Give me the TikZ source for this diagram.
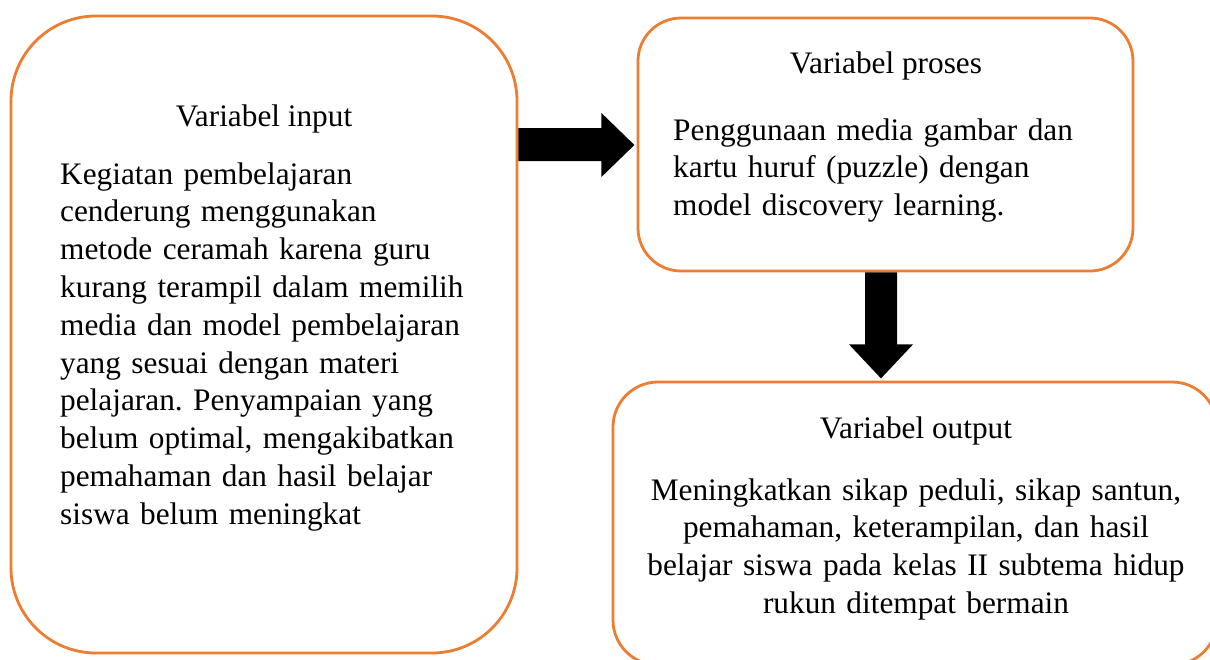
\documentclass[tikz,border=0pt]{standalone}
\usepackage{fontspec}
\setmainfont{Liberation Serif}
\usetikzlibrary{calc}
\definecolor{boxorange}{HTML}{ED7D31}
\frenchspacing
\tikzset{
  varbox/.style={draw=boxorange, line width=2.8pt, fill=white, inner sep=0pt},
  vartitle/.style={anchor=base, inner sep=0pt},
  vartext/.style={inner sep=0pt, text width=#1},
  blockarrow/.style={fill=black, draw=none}
}
\begin{document}
\begin{tikzpicture}[x=1pt, y=-1pt, font=\fontsize{31.3pt}{37.8pt}\selectfont]
  \useasboundingbox (0,0) rectangle (1210,659);

  % Kotak variabel input
  \node[varbox, rounded corners=85pt, minimum width=506pt, minimum height=637pt] (input) at (264,334.5) {};
  \node[vartitle] (inTitle) at (264,126) {Variabel input};
  \node[vartext=460pt, align=left, anchor=north west] (inText) at (60,157.5)
    {\strut Kegiatan pembelajaran\\ cenderung menggunakan\\ metode ceramah karena guru\\
     kurang terampil dalam memilih\\ media dan model pembelajaran\\ yang sesuai dengan materi\\
     pelajaran. Penyampaian yang\\ belum optimal, mengakibatkan\\ pemahaman dan hasil belajar\\
     siswa belum meningkat};

  % Kotak variabel proses
  \node[varbox, rounded corners=43pt, minimum width=495pt, minimum height=253pt] (proc) at (885.5,144.5) {};
  \node[vartitle] (procTitle) at (886,73) {Variabel proses};
  \node[vartext=450pt, align=left, anchor=north west] (procText) at (673,113.5)
    {\strut Penggunaan media gambar dan\\ kartu huruf (puzzle) dengan\\ model discovery learning.};

  % Kotak variabel output
  \node[varbox, rounded corners=45pt, minimum width=604pt, minimum height=283pt] (output) at (915,523.5) {};
  \node[vartitle] (outTitle) at (916,438) {Variabel output};
  \node[vartext=570pt, align=center, anchor=north] (outText) at (916,473.5)
    {\strut Meningkatkan sikap peduli, sikap santun,\\ pemahaman, keterampilan, dan hasil\\
     belajar siswa pada kelas II subtema hidup\\ rukun ditempat bermain};

  % Panah input -> proses
  \coordinate (inArr) at (input.east |- 0,128);
  \fill[blockarrow] (inArr) -- ++(83,0) -- ++(0,-15) -- ++(33,32) -- ++(-33,32)
    -- ++(0,-16) -- ++(-83,0) -- cycle;

  % Panah proses -> output
  \coordinate (procArr) at (proc.south -| 865,0);
  \fill[blockarrow] (procArr) -- ++(32,0) -- ++(0,72) -- ++(16,0) -- ++(-32,34)
    -- ++(-32,-34) -- ++(16,0) -- cycle;
\end{tikzpicture}
\end{document}
